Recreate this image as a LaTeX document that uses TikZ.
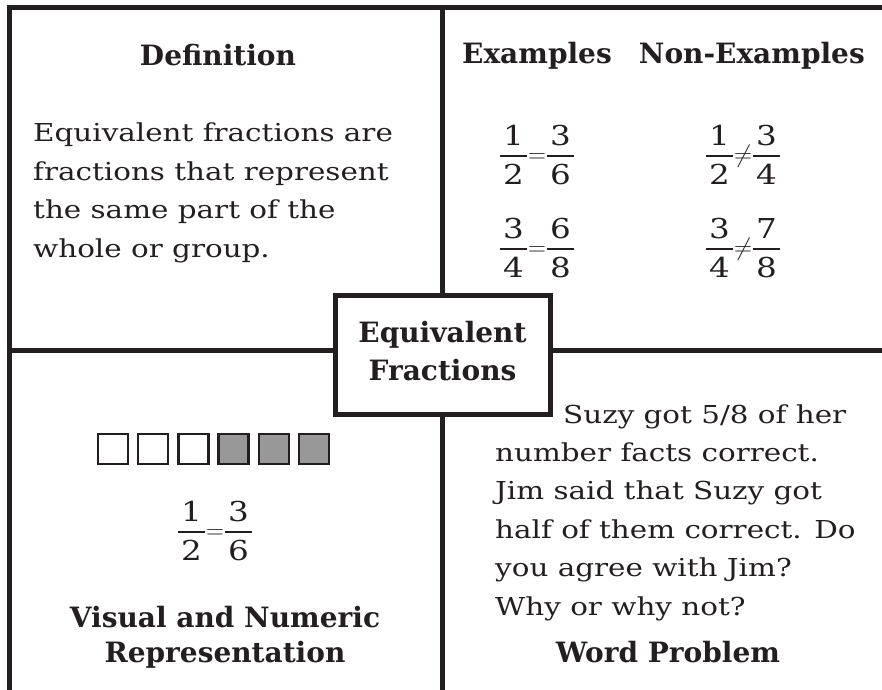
\documentclass[tikz,border=0pt]{standalone}
\usepackage{amsmath}
\usepackage{fontspec}
\setmainfont{DejaVu Serif}
\newfontfamily\bodyfont{DejaVu Serif}[FakeStretch=1.19]
\usetikzlibrary{positioning}
\definecolor{ink}{HTML}{231F20}
\definecolor{shade}{HTML}{989898}
\tikzstyle{rule}=[line width=5pt, color=ink]
\newcommand{\fr}[2]{\genfrac{}{}{2.4pt}{0}{\hspace{3pt}\text{#1}\hspace{3pt}}{\hspace{3pt}\text{#2}\hspace{3pt}}}

\begin{document}
\begin{tikzpicture}[x=1pt, y=-1pt,
  head/.style={font=\fontsize{28}{35}\selectfont\bfseries, text=ink,
               align=center, inner sep=0pt},
  body/.style={font=\bodyfont\fontsize{24.7}{38.4}\selectfont, text=ink,
               align=left, inner sep=0pt},
  frac/.style={font=\bodyfont\fontsize{27.4}{32}\selectfont, text=ink,
               inner sep=0pt},
  hub/.style={rectangle, draw=ink, line width=5pt, fill=white,
              minimum width=215pt, minimum height=119pt, inner sep=0pt,
              align=center, text=ink, font=\fontsize{28}{38}\selectfont\bfseries},
  cell/.style={rectangle, draw=ink, line width=2.5pt, minimum size=30pt,
               inner sep=0pt}
]
\useasboundingbox (0,0) rectangle (882,689);

% Frame corners
\coordinate (tl) at (9.5,7.5);
\coordinate (tr) at (883,7.5);
\coordinate (bl) at (9.5,690);
\coordinate (mt) at (442.5,7.5);
\coordinate (mb) at (442.5,690);
\coordinate (ml) at (9.5,350);
\coordinate (mr) at (883,350);

% Centre box
\node[hub] (hub) at (442.5,354.5) {Equivalent\\Fractions\rule[-8pt]{0pt}{8pt}};

% Dividing lines
\draw[rule] (tr) -- (tl) -- (bl);
\draw[rule] (mt) -- (hub.north);
\draw[rule] (hub.south) -- (mb);
\draw[rule] (ml) -- (ml -| hub.west);
\draw[rule] (mr -| hub.east) -- (mr);

% Top left: definition
\node[head, anchor=base] (defhead) at (218,65) {Definition};
\node[body, anchor=base west] (deftext) at (33,257)
  {Equivalent fractions are\\fractions that represent\\the same part of the\\whole or group.};

% Top right: examples
\node[head, anchor=base west] (exhead) at (462,63) {Examples};
\node[head, anchor=base east] (nonhead) at (865,63) {Non-Examples};
\node[frac] (ex1) at (537,155) {$\fr{1}{2}{=}\fr{3}{6}$};
\node[frac] (ex2) at (537,248) {$\fr{3}{4}{=}\fr{6}{8}$};
\node[frac] (non1) at (743,155) {$\fr{1}{2}{\neq}\fr{3}{4}$};
\node[frac] (non2) at (743,248) {$\fr{3}{4}{\neq}\fr{7}{8}$};

% Bottom left: picture and numbers
\foreach \i in {0,1,2}
  \node[cell, fill=white] (sq\i) at (113+40.2*\i,449) {};
\foreach \i in {3,4,5}
  \node[cell, fill=shade] (sq\i) at (113+40.2*\i,449) {};
\node[frac] (pic) at (215,531) {$\fr{1}{2}{=}\fr{3}{6}$};
\node[head, anchor=base] (vishead) at (225,662) {Visual and Numeric\\Representation};

% Bottom right: word problem
\node[body, anchor=base west] (story) at (495,615)
  {\hspace*{68pt}Suzy got 5/8 of her\\number facts correct.\\Jim said that Suzy got\\half of them correct. Do\\you agree with Jim?\\Why or why not?};
\node[head, anchor=base] (wordhead) at (668,662) {Word Problem};
\end{tikzpicture}
\end{document}
